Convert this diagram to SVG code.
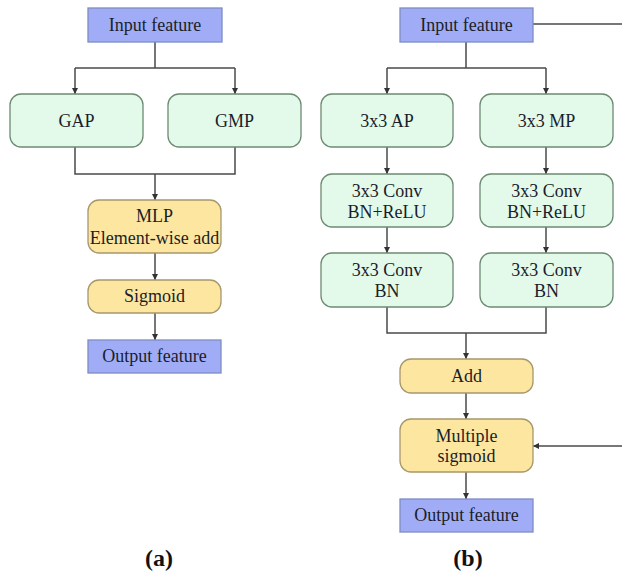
<svg xmlns="http://www.w3.org/2000/svg" width="622" height="576" viewBox="0 0 622 576">
  <defs>
    <marker id="arr" viewBox="0 0 10 10" refX="10" refY="5" markerWidth="6" markerHeight="6" markerUnits="userSpaceOnUse" orient="auto">
      <path d="M0,0 L10,5 L0,10 z" fill="#333"/>
    </marker>
    <style>
      .io { fill: #a0adf6; stroke: #7d8cc4; stroke-width: 1.3; }
      .pool { fill: #e3faeb; stroke: #6d8a72; stroke-width: 1.3; }
      .op { fill: #fde7a0; stroke: #a6976c; stroke-width: 1.3; }
      .t { font-family: "Liberation Serif", "Times New Roman", serif; font-size: 18px; fill: #1a1d2a; text-anchor: middle; }
      .cap { font-family: "Liberation Serif", "Times New Roman", serif; font-size: 24px; font-weight: bold; fill: #111; text-anchor: middle; }
      .ln { fill: none; stroke: #4a4a4a; stroke-width: 1.5; }
      .ar { fill: none; stroke: #4a4a4a; stroke-width: 1.5; marker-end: url(#arr); }
    </style>
  </defs>
  <rect width="622" height="576" fill="#ffffff"/>

  <!-- connectors -->
  <g id="connectors">
    <!-- panel a -->
    <path class="ln" d="M155,42 V68 M75,68 H235"/>
    <path class="ar" d="M75,68 V94"/>
    <path class="ar" d="M235,68 V94"/>
    <path class="ln" d="M75,147 V174 H235 V147"/>
    <path class="ar" d="M155,174 V200"/>
    <path class="ar" d="M155,253 V280"/>
    <path class="ar" d="M155,313 V340"/>
    <!-- panel b -->
    <path class="ln" d="M533,24 H622"/>
    <path class="ln" d="M466,42 V68 M387,68 H546"/>
    <path class="ar" d="M387,68 V94"/>
    <path class="ar" d="M546,68 V94"/>
    <path class="ar" d="M387,147 V174"/>
    <path class="ar" d="M546,147 V174"/>
    <path class="ar" d="M387,227 V253"/>
    <path class="ar" d="M546,227 V253"/>
    <path class="ln" d="M387,307 V333 H546 V307"/>
    <path class="ar" d="M466,333 V359"/>
    <path class="ar" d="M466,393 V419"/>
    <path class="ar" d="M622,446 H533"/>
    <path class="ar" d="M466,472 V499"/>
  </g>

  <!-- panel a nodes -->
  <g id="a-input">
    <rect class="io" x="88" y="8" width="134" height="34"/>
    <text class="t" x="155" y="31">Input feature</text>
  </g>
  <g id="a-gap">
    <rect class="pool" x="10" y="94" width="133" height="53" rx="11"/>
    <text class="t" x="76.5" y="127">GAP</text>
  </g>
  <g id="a-gmp">
    <rect class="pool" x="168" y="94" width="133" height="53" rx="11"/>
    <text class="t" x="234.5" y="127">GMP</text>
  </g>
  <g id="a-mlp">
    <rect class="op" x="88" y="200" width="133" height="53" rx="11"/>
    <text class="t" x="154.5" y="222">MLP</text>
    <text class="t" x="154.5" y="244">Element-wise add</text>
  </g>
  <g id="a-sigmoid">
    <rect class="op" x="88" y="280" width="133" height="33" rx="11"/>
    <text class="t" x="154.5" y="302">Sigmoid</text>
  </g>
  <g id="a-output">
    <rect class="io" x="88" y="340" width="133" height="33"/>
    <text class="t" x="154.5" y="362">Output feature</text>
  </g>
  <text class="cap" x="159" y="566">(a)</text>

  <!-- panel b nodes -->
  <g id="b-input">
    <rect class="io" x="400" y="8" width="133" height="34"/>
    <text class="t" x="466.5" y="31">Input feature</text>
  </g>
  <g id="b-ap">
    <rect class="pool" x="321" y="94" width="132" height="53" rx="11"/>
    <text class="t" x="387" y="127">3x3 AP</text>
  </g>
  <g id="b-mp">
    <rect class="pool" x="480" y="94" width="133" height="53" rx="11"/>
    <text class="t" x="546.5" y="127">3x3 MP</text>
  </g>
  <g id="b-conv1-left">
    <rect class="pool" x="321" y="174" width="132" height="53" rx="11"/>
    <text class="t" x="387" y="197">3x3 Conv</text>
    <text class="t" x="387" y="218">BN+ReLU</text>
  </g>
  <g id="b-conv1-right">
    <rect class="pool" x="480" y="174" width="133" height="53" rx="11"/>
    <text class="t" x="546.5" y="197">3x3 Conv</text>
    <text class="t" x="546.5" y="218">BN+ReLU</text>
  </g>
  <g id="b-conv2-left">
    <rect class="pool" x="321" y="253" width="132" height="54" rx="11"/>
    <text class="t" x="387" y="276">3x3 Conv</text>
    <text class="t" x="387" y="297">BN</text>
  </g>
  <g id="b-conv2-right">
    <rect class="pool" x="480" y="253" width="133" height="54" rx="11"/>
    <text class="t" x="546.5" y="276">3x3 Conv</text>
    <text class="t" x="546.5" y="297">BN</text>
  </g>
  <g id="b-add">
    <rect class="op" x="400" y="359" width="133" height="34" rx="11"/>
    <text class="t" x="466.5" y="382">Add</text>
  </g>
  <g id="b-mulsig">
    <rect class="op" x="400" y="419" width="133" height="53" rx="11"/>
    <text class="t" x="466.5" y="442">Multiple</text>
    <text class="t" x="466.5" y="462">sigmoid</text>
  </g>
  <g id="b-output">
    <rect class="io" x="400" y="499" width="133" height="33"/>
    <text class="t" x="466.5" y="521">Output feature</text>
  </g>
  <text class="cap" x="468" y="566">(b)</text>
</svg>
